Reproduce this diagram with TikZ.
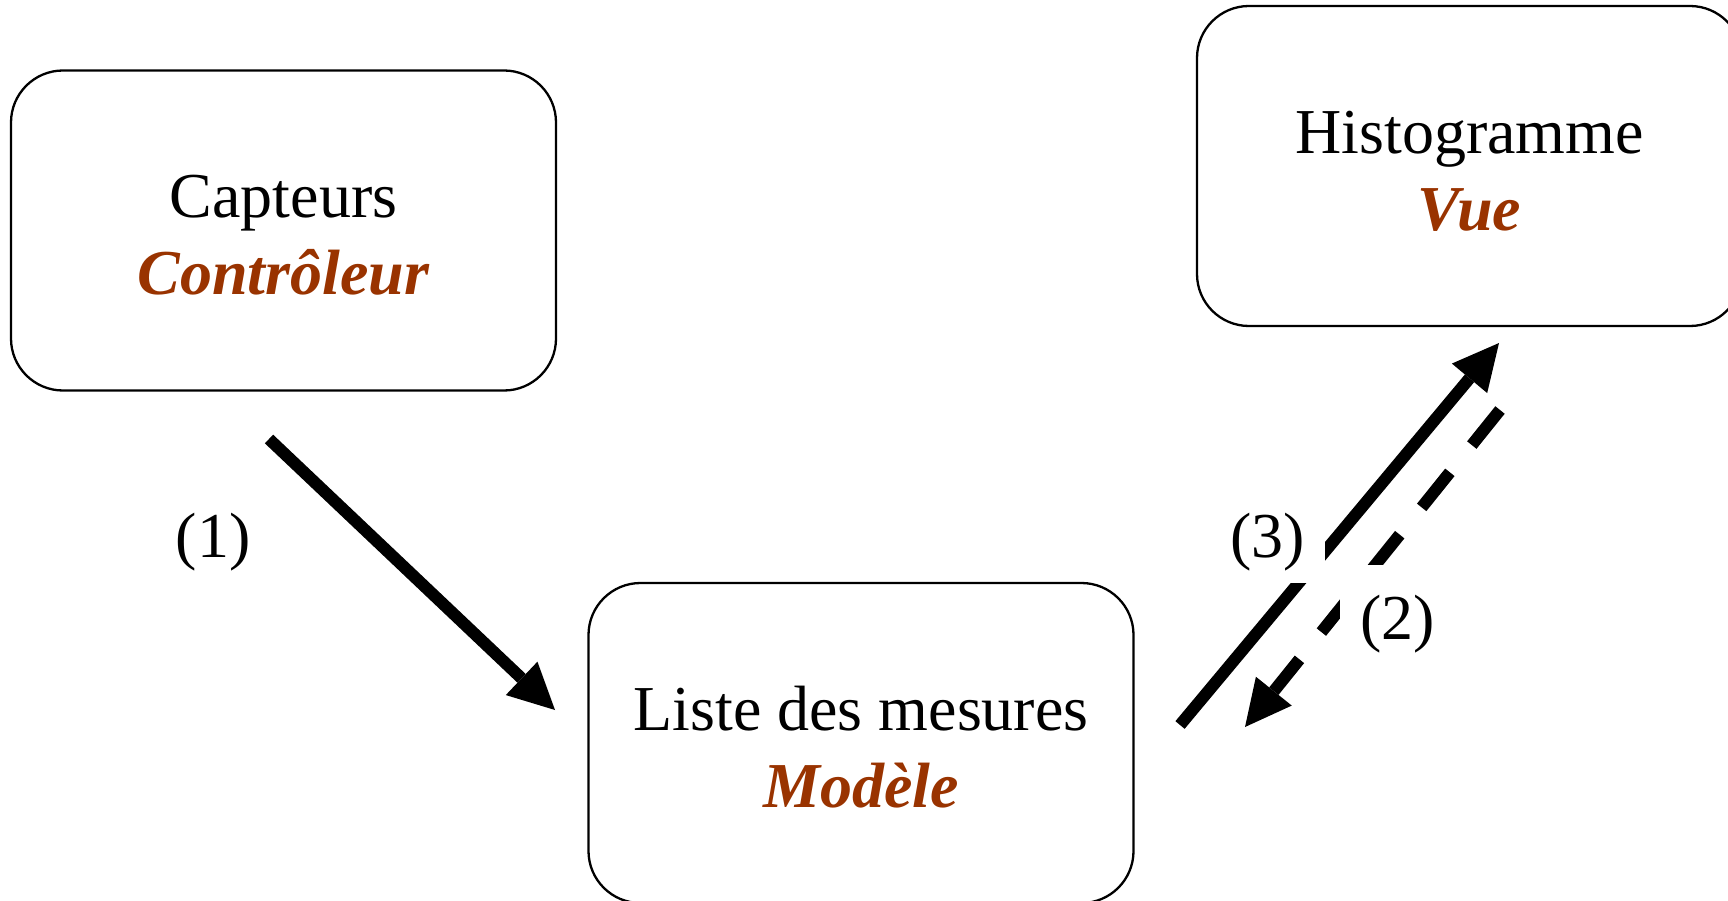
\documentclass[tikz,border=0pt]{standalone}
\usepackage{fontspec}
\setmainfont{Liberation Serif}
\usetikzlibrary{arrows.meta}
\definecolor{rust}{RGB}{153,51,0}
\newcommand{\rolename}[1]{\textcolor{rust}{\textbf{\textit{#1}}}}
\newcommand{\topstrut}{\rule{0pt}{52pt}}
\begin{document}
\begin{tikzpicture}[x=1pt,y=-1pt,
  box/.style={draw=black, line width=2.3pt, rounded corners=52pt,
    minimum width=545pt, minimum height=320pt, align=center,
    font=\fontsize{64}{77}\selectfont, inner sep=0pt},
  flow/.style={line width=12pt, line cap=butt,
    -{Triangle[length=46pt,width=46pt,line width=0pt]}},
  dashedflow/.style={flow, dash pattern=on 45pt off 35pt},
  num/.style={fill=white, inner xsep=20pt, inner ysep=12pt,
    font=\fontsize{64}{77}\selectfont}]
\useasboundingbox (0,0) rectangle (1728,901);

\node[box] (ctrl) at (283.5,230.5) {\topstrut Capteurs\\\rolename{Contrôleur}};
\node[box] (view) at (1469.5,166) {\topstrut Histogramme\\\rolename{Vue}};
\node[box] (model) at (861,743) {\topstrut Liste des mesures\\\rolename{Modèle}};

\coordinate (a1s) at (269,439);
\coordinate (a1e) at (555,710);
\coordinate (a3s) at (1180,725);
\coordinate (a3e) at (1499,343);
\coordinate (a2s) at (1500,410);
\coordinate (a2e) at (1245,727);

\draw[flow] (a1s) -- (a1e);
\draw[flow] (a3s) -- (a3e);
\draw[dashedflow] (a2s) -- (a2e);

\node[num] (l1) at (213,542) {(1)};
\node[num, anchor=south east] (l3) at (1325,583) {(3)};
\node[num, anchor=north west, inner ysep=30pt] (l2) at (1340,565) {(2)};
\end{tikzpicture}
\end{document}
